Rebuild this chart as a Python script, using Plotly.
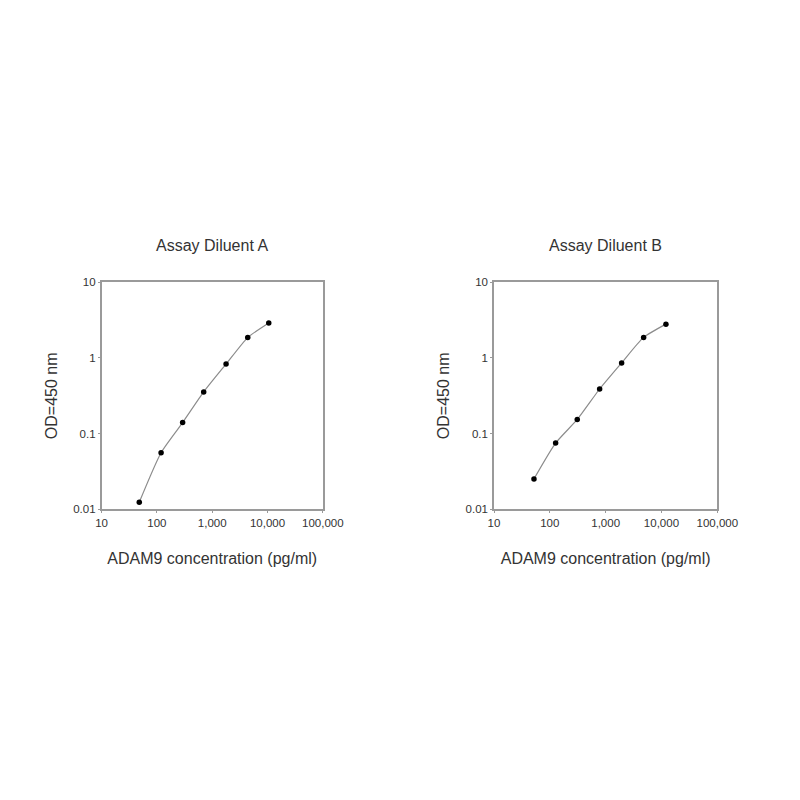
import plotly.graph_objects as go
from plotly.subplots import make_subplots

# ADAM9 standard curves
conc_a = [48, 119, 292, 702, 1780, 4390, 10540]
od_a = [0.0124, 0.056, 0.14, 0.356, 0.83, 1.86, 2.9]

conc_b = [52, 127, 310, 781, 1935, 4790, 12030]
od_b = [0.0252, 0.075, 0.154, 0.389, 0.861, 1.87, 2.8]

titles = ['Assay Diluent A', 'Assay Diluent B']
x_tickvals = [10, 100, 1000, 10000, 100000]
x_ticktext = ['10', '100', '1,000', '10,000', '100,000']
y_tickvals = [0.01, 0.1, 1, 10]
y_ticktext = ['0.01', '0.1', '1', '10']

FONT = 'Liberation Sans, Arial, sans-serif'
AXIS_GREY = '#9a9a9a'
TEXT = '#333333'
# the page puts the figure 8px in from the top-left corner
SHIFT = 8 / 800

fig = make_subplots(rows=1, cols=2)

for col, (x, y) in enumerate([(conc_a, od_a), (conc_b, od_b)], start=1):
    fig.add_trace(
        go.Scatter(
            x=x, y=y, mode='lines+markers',
            line=dict(color='#8c8c8c', width=1.2, shape='spline', smoothing=0.6),
            marker=dict(color='black', size=5.5),
            showlegend=False,
        ),
        row=1, col=col,
    )

# place the two plot boxes where they sit in the reference
domains = [(0.127 - SHIFT, 0.4035 - SHIFT), (0.6175 - SHIFT, 0.8966 - SHIFT)]
for i, dom in enumerate(domains, start=1):
    suffix = '' if i == 1 else str(i)
    fig.layout['xaxis' + suffix].update(domain=dom)
    fig.layout['yaxis' + suffix].update(domain=(0.3634 + SHIFT, 0.6471 + SHIFT))

fig.update_xaxes(
    type='log', range=[1, 5], automargin=False,
    tickvals=x_tickvals, ticktext=x_ticktext,
    ticks='outside', ticklen=2, tickcolor=AXIS_GREY,
    showline=True, linecolor=AXIS_GREY, linewidth=1.5, mirror=True,
    showgrid=False, zeroline=False,
    tickfont=dict(size=11.5, color=TEXT),
    title=dict(text='ADAM9 concentration (pg/ml)', standoff=25,
               font=dict(size=16, color=TEXT)),
)
fig.update_yaxes(
    type='log', range=[-2, 1], automargin=False,
    tickvals=y_tickvals, ticktext=y_ticktext,
    ticks='outside', ticklen=2, tickcolor=AXIS_GREY,
    showline=True, linecolor=AXIS_GREY, linewidth=1.5, mirror=True,
    showgrid=False, zeroline=False,
    tickfont=dict(size=11.5, color=TEXT),
    title=dict(text='OD=450 nm', standoff=12,
               font=dict(size=16, color=TEXT)),
)

for title, dom in zip(titles, domains):
    fig.add_annotation(
        text=title, x=(dom[0] + dom[1]) / 2, y=1 - 245 / 800 + SHIFT,
        xref='paper', yref='paper', xanchor='center', yanchor='middle',
        showarrow=False, font=dict(size=16, color=TEXT),
    )

fig.update_layout(
    width=800, height=800,
    margin=dict(l=0, r=0, t=0, b=0),
    paper_bgcolor='white', plot_bgcolor='white',
    font=dict(family=FONT),
)

fig.write_html('out.html')
